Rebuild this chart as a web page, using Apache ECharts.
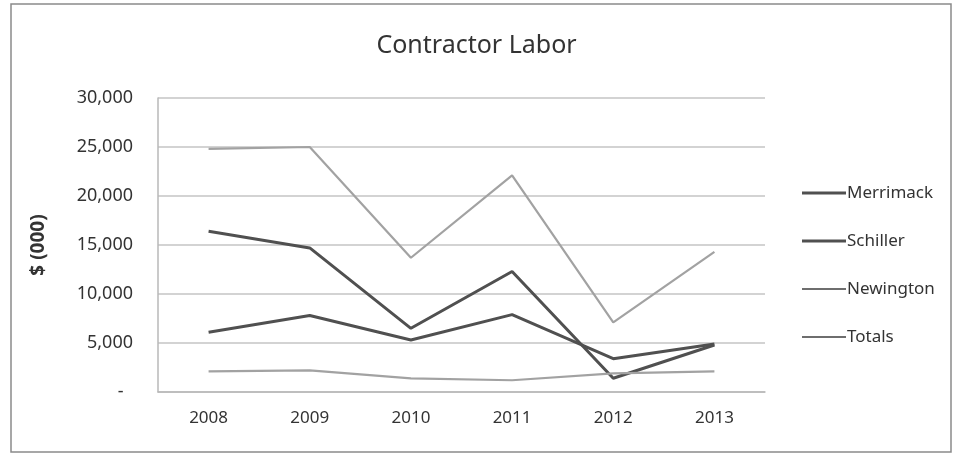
<!DOCTYPE html>
<html>
<head>
<meta charset="utf-8">
<script src="https://cdn.jsdelivr.net/npm/echarts@6/dist/echarts.min.js"></script>
<style>
  html, body { margin: 0; padding: 0; background: #fff; }
  #chart { width: 953px; height: 454px; }
</style>
</head>
<body>
<div id="chart"></div>
<script>
// Contractor labor spend by station, in thousands of dollars
const years = ['2008', '2009', '2010', '2011', '2012', '2013'];
const merrimack = [16400, 14700, 6500, 12300, 1400, 4800];
const schiller = [6100, 7800, 5300, 7900, 3400, 4900];
const newington = [2100, 2200, 1400, 1200, 1900, 2100];
const totals = [24800, 25000, 13700, 22100, 7100, 14300];
const yTicks = [0, 5000, 10000, 15000, 20000, 25000, 30000];

const FONT = '"Noto Sans", "Open Sans", sans-serif';
const TEXT = '#333333';
const DARK = '#505050';
const LIGHT = '#a2a2a2';

const chart = echarts.init(document.getElementById('chart'));

function line(name, data, color, width) {
  return {
    name: name,
    type: 'line',
    data: data,
    symbol: 'none',
    lineStyle: { color: color, width: width },
    itemStyle: { color: color },
    emphasis: { disabled: true },
    z: width > 2 ? 3 : 2
  };
}

// Station entries use heavier legend strokes than the lighter pair below
function legendBlock(names, top, stroke, color) {
  return {
    orient: 'vertical',
    left: 797,
    top: top,
    icon: 'rect',
    itemWidth: 44,
    itemHeight: stroke,
    itemGap: 30,
    selectedMode: false,
    itemStyle: { color: color },
    textStyle: { fontFamily: FONT, fontSize: 17, color: TEXT, padding: [0, 0, 0, -4], lineHeight: 18 },
    data: names
  };
}

chart.setOption({
  backgroundColor: '#fff',
  animation: false,
  graphic: [{
    type: 'rect',
    shape: { x: 11, y: 4, width: 940, height: 448 },
    style: { fill: 'none', stroke: '#8a8a8a', lineWidth: 1.5 },
    silent: true
  }],
  title: {
    text: 'Contractor Labor',
    left: 'center',
    top: 28,
    textStyle: { fontFamily: FONT, fontSize: 25, fontWeight: 'normal', color: TEXT }
  },
  grid: { left: 158, right: 188, top: 98, bottom: 62 },
  legend: [
    legendBlock(['Merrimack', 'Schiller'], 179, 3, DARK),
    legendBlock(['Newington', 'Totals'], 275, 2, '#6e6e6e')
  ],
  xAxis: {
    type: 'category',
    data: years,
    boundaryGap: true,
    axisLine: { lineStyle: { color: '#b8b8b8', width: 1.5 } },
    axisTick: { show: false },
    axisLabel: { fontFamily: FONT, fontSize: 17, color: TEXT, margin: 18 }
  },
  yAxis: {
    type: 'value',
    min: yTicks[0],
    max: yTicks[yTicks.length - 1],
    interval: yTicks[1] - yTicks[0],
    name: '$ (000)',
    nameLocation: 'middle',
    nameGap: 110,
    nameTextStyle: { fontFamily: FONT, fontSize: 19, fontWeight: 'bold', color: TEXT },
    axisLine: { show: true, lineStyle: { color: '#b8b8b8', width: 1.5 } },
    axisTick: { show: false },
    splitLine: { lineStyle: { color: '#c4c4c4', width: 1.5 } },
    axisLabel: {
      fontFamily: FONT, fontSize: 18, color: TEXT, margin: 25,
      formatter: v => v === 0 ? '-  ' : v.toLocaleString('en-US')
    }
  },
  series: [
    line('Merrimack', merrimack, DARK, 3),
    line('Schiller', schiller, DARK, 3),
    line('Newington', newington, LIGHT, 2.2),
    line('Totals', totals, LIGHT, 2.2)
  ]
});
</script>
</body>
</html>
